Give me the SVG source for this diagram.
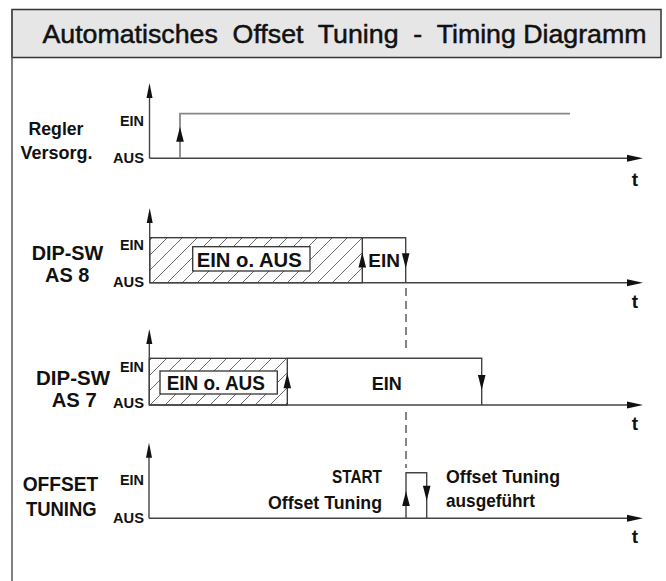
<svg xmlns="http://www.w3.org/2000/svg" width="666" height="581" viewBox="0 0 666 581">
<defs>
<style>
.ln{stroke:#444;stroke-width:1.4;fill:none}
.lt{stroke:#888;stroke-width:1.8;fill:none}
.ah{fill:#111;stroke:none}
.lbl{font-family:"Liberation Sans",Arial,sans-serif;font-weight:bold;fill:#111}
.lv{font-size:14px;text-anchor:end}
.sig{font-size:20px;text-anchor:middle}
.tt{font-size:19px;text-anchor:middle}
.box{fill:#fff;stroke:#333;stroke-width:1.3}
.dash{stroke:#444;stroke-width:1.3;stroke-dasharray:8 5;fill:none}
</style>
<pattern id="hatch" patternUnits="userSpaceOnUse" width="15" height="15">
<path d="M0,15 L15,0 M-2,2 L2,-2 M13,17 L17,13" stroke="#444" stroke-width="0.8"/>
</pattern>
<polygon id="axUp" points="0,0 -3,15 3,15"/>
<polygon id="axRight" points="0,0 -16,-3.5 -16,3.5"/>
<polygon id="up" points="0,0 -3.8,15 3.8,15"/>
<polygon id="down" points="0,0 -3.8,-15 3.8,-15"/>
</defs>
<rect width="666" height="581" fill="#fff"/>

<g id="frame">
<rect x="12" y="9.5" width="649" height="48" fill="#e6e6e6" stroke="#333" stroke-width="1.5"/>
<line x1="12" y1="9.5" x2="12" y2="581" stroke="#555" stroke-width="1.5"/>
<text x="42.5" y="43" font-family="'Liberation Sans',Arial,sans-serif" font-size="26.5" fill="#111" stroke="#111" stroke-width="0.5" xml:space="preserve" textLength="604" lengthAdjust="spacingAndGlyphs">Automatisches  Offset  Tuning  -  Timing Diagramm</text>
</g>

<g id="regler">
<text class="lbl sig" x="56" y="135" style="font-size:19px" textLength="55" lengthAdjust="spacingAndGlyphs">Regler</text>
<text class="lbl sig" x="56.5" y="158.5" style="font-size:19px" textLength="72" lengthAdjust="spacingAndGlyphs">Versorg.</text>
<text class="lbl lv" x="144" y="126" textLength="24" lengthAdjust="spacingAndGlyphs">EIN</text>
<text class="lbl lv" x="144" y="163.3" textLength="31" lengthAdjust="spacingAndGlyphs">AUS</text>
<line class="ln" x1="149.5" y1="95" x2="149.5" y2="158.3"/>
<use href="#axUp" class="ah" x="149.5" y="83"/>
<line class="ln" x1="149.5" y1="158.3" x2="630" y2="158.3"/>
<use href="#axRight" class="ah" x="643" y="158.3"/>
<text class="lbl tt" x="635" y="186">t</text>
<polyline class="lt" points="180,158.3 180,113.7 570,113.7"/>
<use href="#up" class="ah" x="180" y="126.7"/>
</g>

<g id="as8">
<text class="lbl sig" x="67.5" y="260" textLength="71.6" lengthAdjust="spacingAndGlyphs">DIP-SW</text>
<text class="lbl sig" x="67.2" y="281.7" textLength="44.3" lengthAdjust="spacingAndGlyphs">AS 8</text>
<text class="lbl lv" x="144" y="250" textLength="24" lengthAdjust="spacingAndGlyphs">EIN</text>
<text class="lbl lv" x="144" y="287" textLength="31" lengthAdjust="spacingAndGlyphs">AUS</text>
<rect x="149.7" y="237.7" width="212.6" height="45" fill="url(#hatch)" stroke="#333" stroke-width="1.3"/>
<line class="ln" x1="149.7" y1="220" x2="149.7" y2="282.7"/>
<use href="#axUp" class="ah" x="149.7" y="208"/>
<polyline class="ln" points="362.3,237.7 405.7,237.7 405.7,282.7"/>
<line class="ln" x1="149.7" y1="282.7" x2="630" y2="282.7"/>
<use href="#axRight" class="ah" x="643" y="282.7"/>
<text class="lbl tt" x="635" y="308.3">t</text>
<rect class="box" x="192.7" y="246.7" width="117.3" height="24.3"/>
<text class="lbl" x="249.2" y="266.7" text-anchor="middle" style="font-size:20.5px" textLength="105" lengthAdjust="spacingAndGlyphs">EIN o. AUS</text>
<use href="#up" class="ah" x="362.3" y="252.5"/>
<text class="lbl" x="384.2" y="266.7" text-anchor="middle" style="font-size:18.5px" textLength="31.7" lengthAdjust="spacingAndGlyphs">EIN</text>
<use href="#down" class="ah" x="405.7" y="268.3"/>
</g>

<g id="as7">
<text class="lbl sig" x="73" y="385" textLength="74" lengthAdjust="spacingAndGlyphs">DIP-SW</text>
<text class="lbl sig" x="74.2" y="407" textLength="45" lengthAdjust="spacingAndGlyphs">AS 7</text>
<text class="lbl lv" x="144" y="371.7" textLength="24" lengthAdjust="spacingAndGlyphs">EIN</text>
<text class="lbl lv" x="144" y="408.3" textLength="31" lengthAdjust="spacingAndGlyphs">AUS</text>
<rect x="149.3" y="358.3" width="138" height="46.7" fill="url(#hatch)" stroke="#333" stroke-width="1.3"/>
<line class="ln" x1="149.3" y1="341" x2="149.3" y2="405"/>
<use href="#axUp" class="ah" x="149.3" y="329"/>
<polyline class="ln" points="287.3,358.3 481.7,358.3 481.7,405"/>
<line class="ln" x1="149.3" y1="405" x2="630" y2="405"/>
<use href="#axRight" class="ah" x="643" y="405"/>
<text class="lbl tt" x="635" y="430">t</text>
<rect class="box" x="160" y="371" width="117.3" height="23"/>
<text class="lbl" x="215.8" y="390" text-anchor="middle" style="font-size:20.5px" textLength="98.3" lengthAdjust="spacingAndGlyphs">EIN o. AUS</text>
<use href="#up" class="ah" x="287.3" y="373.3"/>
<text class="lbl" x="386.7" y="390" text-anchor="middle" style="font-size:18.5px" textLength="30" lengthAdjust="spacingAndGlyphs">EIN</text>
<use href="#down" class="ah" x="481.7" y="390"/>
</g>

<g id="offset">
<text class="lbl sig" x="60.5" y="491" textLength="75.6" lengthAdjust="spacingAndGlyphs">OFFSET</text>
<text class="lbl sig" x="61.3" y="516" textLength="70.7" lengthAdjust="spacingAndGlyphs">TUNING</text>
<text class="lbl lv" x="144" y="485" textLength="24" lengthAdjust="spacingAndGlyphs">EIN</text>
<text class="lbl lv" x="144" y="523.3" textLength="31" lengthAdjust="spacingAndGlyphs">AUS</text>
<line class="ln" x1="149" y1="455" x2="149" y2="518.3"/>
<use href="#axUp" class="ah" x="149" y="442.7"/>
<line class="ln" x1="149" y1="518.3" x2="630" y2="518.3"/>
<use href="#axRight" class="ah" x="643" y="518.3"/>
<text class="lbl tt" x="635" y="543">t</text>
<polyline class="ln" points="406,518.3 406,472.7 426.7,472.7 426.7,518.3"/>
<use href="#up" class="ah" x="406" y="491"/>
<use href="#down" class="ah" x="426.7" y="500.7"/>
<text class="lbl" x="382" y="483.3" text-anchor="end" style="font-size:19px" textLength="50" lengthAdjust="spacingAndGlyphs">START</text>
<text class="lbl" x="382" y="509.3" text-anchor="end" style="font-size:19px" textLength="114" lengthAdjust="spacingAndGlyphs">Offset Tuning</text>
<text class="lbl" x="446" y="483" style="font-size:19px" textLength="114" lengthAdjust="spacingAndGlyphs">Offset Tuning</text>
<text class="lbl" x="446" y="507" style="font-size:19px" textLength="89" lengthAdjust="spacingAndGlyphs">ausgeführt</text>
</g>

<g id="connectors">
<line class="dash" x1="406" y1="288" x2="406" y2="350"/>
<line class="dash" x1="406" y1="412" x2="406" y2="468"/>
</g>
</svg>
